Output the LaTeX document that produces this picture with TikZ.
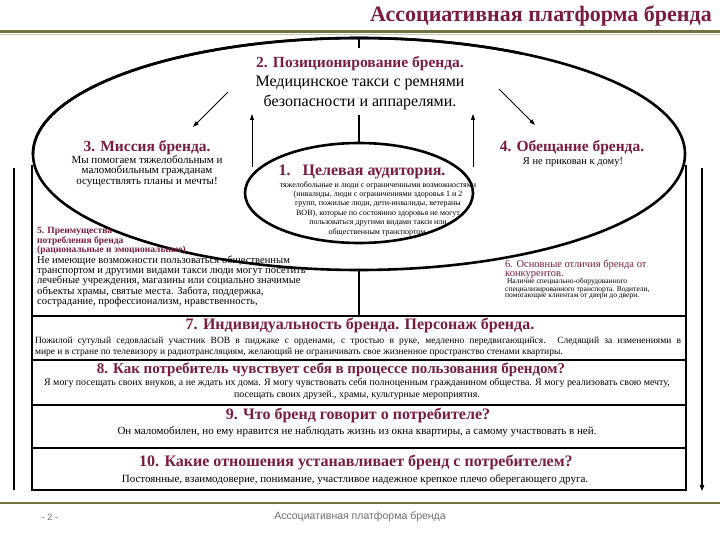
\documentclass[tikz,border=0pt]{standalone}
\usepackage{fontspec}
\setmainfont{Liberation Serif}
\setsansfont{Liberation Sans}
\usetikzlibrary{shapes.geometric,arrows.meta}
\definecolor{maroon}{RGB}{122,28,64}
\definecolor{olivebar}{RGB}{112,112,64}
\definecolor{footgray}{RGB}{110,110,110}
\newcommand{\setfs}[2]{\fontsize{#1}{#2}\selectfont}
\begin{document}
\begin{tikzpicture}[x=1pt,y=-1pt,
  ell/.style={draw,ellipse,line width=2.6,inner sep=0,outer sep=0},
  thinline/.style={line width=1.2},
  arr/.style={line width=0.9,-{Triangle[length=6pt,width=4pt]}},
  boxnode/.style={draw,line width=2,rectangle,minimum width=654,inner sep=0,outer sep=0},
  hdbig/.style={text=maroon,font=\setfs{16}{18}\bfseries,inner sep=0},
  hdmid/.style={text=maroon,font=\setfs{15.5}{17}\bfseries,inner sep=0},
  txt/.style={inner sep=0,align=center}]
\useasboundingbox (0,0) rectangle (720,540);

% header
\node[anchor=base east,text=maroon,font=\setfs{22}{24}\bfseries,inner sep=0] (title) at (712,22) {Ассоциативная платформа бренда};
\coordinate (hl1) at (0,31.5); \coordinate (hr1) at (720,31.5);
\draw[olivebar,line width=2.6] (hl1) -- (hr1);
\coordinate (hl2) at (0,34.2); \coordinate (hr2) at (720,34.2);
\draw[olivebar!40,line width=0.8] (hl2) -- (hr2);

% frame lines
\coordinate (ol1) at (14,168); \coordinate (ol2) at (14,490);
\draw[thinline] (ol1) -- (ol2);
\coordinate (or1) at (702,168); \coordinate (or2) at (702,491);
\draw[line width=1.2,-{Triangle[length=6pt,width=4.5pt]}] (or1) -- (or2);

% boxes 7-10
\node[boxnode,minimum height=44] (b7) at (359,338) {};
\node[boxnode,minimum height=45] (b8) at (359,382.5) {};
\node[boxnode,minimum height=43] (b9) at (359,426.5) {};
\node[boxnode,minimum height=42] (b10) at (359,469) {};

\coordinate (il1) at (32,165); \coordinate (ir1) at (686,165);
\draw[line width=2] (il1) -- (b7.north west);
\draw[line width=2] (ir1) -- (b7.north east);

% big ellipse
\node[ell,minimum width=652,minimum height=232] (big) at (359,154) {};
\coordinate (tick) at (359,48);
\draw[thinline] (big.north) -- (tick);
\coordinate (bm) at (359,316);
\draw[line width=1.5] (big.south) -- (bm);

% inner ellipse
\node[ell,minimum width=228,minimum height=100] (tgt) at (359,193) {};

% positioning
\node[txt,font=\setfs{16}{19.5}] (pos) at (360,83)
  {{\setfs{15.5}{19.5}\bfseries\color{maroon}2. Позиционирование бренда.}\\
   Медицинское такси с ремнями\\ безопасности и аппарелями.};

% arrows
\coordinate (la1) at (228,92); \coordinate (la2) at (193,127);
\draw[arr] (la1) -- (la2);
\coordinate (ra1) at (499,89); \coordinate (ra2) at (535,125);
\draw[arr] (ra1) -- (ra2);
\coordinate (ua1) at (252,167); \coordinate (ua2) at (252,114);
\draw[arr] (ua1) -- (ua2);
\coordinate (ub1) at (473,167); \coordinate (ub2) at (473,114);
\draw[arr] (ub1) -- (ub2);
\coordinate (m1) at (359,115);
\draw[thinline] (m1) -- (tgt.north);

% mission
\node[hdmid] (misT) at (147,147.5) {3. Миссия бренда.};
\node[txt,font=\setfs{11}{10.6}] (misB) at (147,171)
  {Мы помогаем тяжелобольным и\\ маломобильным гражданам\\ осуществлять планы и мечты!};

% promise
\node[hdmid] (proT) at (572,148) {4. Обещание бренда.};
\node[txt,font=\setfs{10.5}{11}] (proB) at (573,162.5) {Я не прикован к дому!};

% target
\node[hdmid,font=\setfs{16}{18}\bfseries] (tgtT) at (362,172) {1.\hspace{12pt}Целевая аудитория.};
\node[txt,font=\setfs{8}{9.4}] (tgtB) at (378,208.5)
  {тяжелобольные и люди с ограниченными возможностями\\
   (инвалиды, люди с ограничениями здоровья 1 и 2\\
   групп, пожилые люди, дети-инвалиды, ветераны\\
   ВОВ), которые по состоянию здоровья не могут\\
   пользоваться другими видами такси или\\
   общественным транспортом.};

% 5
\node[inner sep=0,align=left,anchor=north west,text=maroon,font=\setfs{9.5}{8.4}\bfseries] (advT) at (37,227)
  {5. Преимущества\\ потребления бренда\\ (рациональные и эмоциональные)};
\node[inner sep=0,align=left,anchor=north west,font=\setfs{10.6}{9.8}] (advB) at (37,255.5)
  {Не имеющие возможности пользоваться общественным\\
   транспортом и другими видами такси люди могут посетить\\
   лечебные учреждения, магазины или социально значимые\\
   объекты храмы, святые места. Забота, поддержка,\\
   сострадание, профессионализм, нравственность,};

% 6
\node[inner sep=0,align=left,anchor=west,text=maroon,font=\setfs{10.5}{9}] (difT) at (505,269.5)
  {6. Основные отличия бренда от\\ конкурентов.};
\node[inner sep=0,align=left,anchor=west,font=\setfs{7.5}{6.3}] (difB) at (505,289)
  {\ Наличие специально-оборудованного\\
   специализированного транспорта. Водители,\\
   помогающие клиентам от двери до двери.};

% big ellipse lower-left edge drawn over text 5
\draw[line width=2.6] (big.west) arc[start angle=180,end angle=300,x radius=326pt,y radius=-116pt];

% box 7
\node[hdbig] (t7) at (360,325) {7. Индивидуальность бренда. Персонаж бренда.};
\node[inner sep=0,text width=646,align=justify,font=\setfs{9.5}{11}] (x7) at (358,346.5)
  {Пожилой сутулый седовласый участник ВОВ в пиджаке с орденами, с тростью в руке, медленно передвигающийся. Следящий за изменениями в\linebreak
   мире и в стране по телевизору и радиотрансляциям, желающий не ограничивать свое жизненное пространство стенами квартиры.};

% box 8
\node[hdbig,font=\setfs{15}{17}\bfseries] (t8) at (331,370) {8. Как потребитель чувствует себя в процессе пользования брендом?};
\node[txt,font=\setfs{9.9}{12}] (x8) at (357,389)
  {Я могу посещать своих внуков, а не ждать их дома. Я могу чувствовать себя полноценным гражданином общества. Я могу реализовать свою мечту,\\
   посещать своих друзей., храмы, культурные мероприятия.};

% box 9
\node[hdbig] (t9) at (358,415) {9. Что бренд говорит о потребителе?};
\node[txt,font=\setfs{11}{12}] (x9) at (357,432)
  {Он маломобилен, но ему нравится не наблюдать жизнь из окна квартиры, а самому участвовать в ней.};

% box 10
\node[hdbig] (t10) at (356,462) {10. Какие отношения устанавливает бренд с потребителем?};
\node[txt,font=\setfs{11}{12}] (x10) at (355,480)
  {Постоянные, взаимодоверие, понимание, участливое надежное крепкое плечо оберегающего друга.};

% footer
\coordinate (fl1) at (0,503); \coordinate (fr1) at (720,503);
\draw[olivebar,line width=2.6] (fl1) -- (fr1);
\node[inner sep=0,text=footgray,font=\sffamily\setfs{9}{10}] (pg) at (50,517) {- 2 -};
\node[inner sep=0,text=footgray,font=\sffamily\setfs{10.5}{12}] (ft) at (360,517) {Ассоциативная платформа бренда};
\end{tikzpicture}
\end{document}
